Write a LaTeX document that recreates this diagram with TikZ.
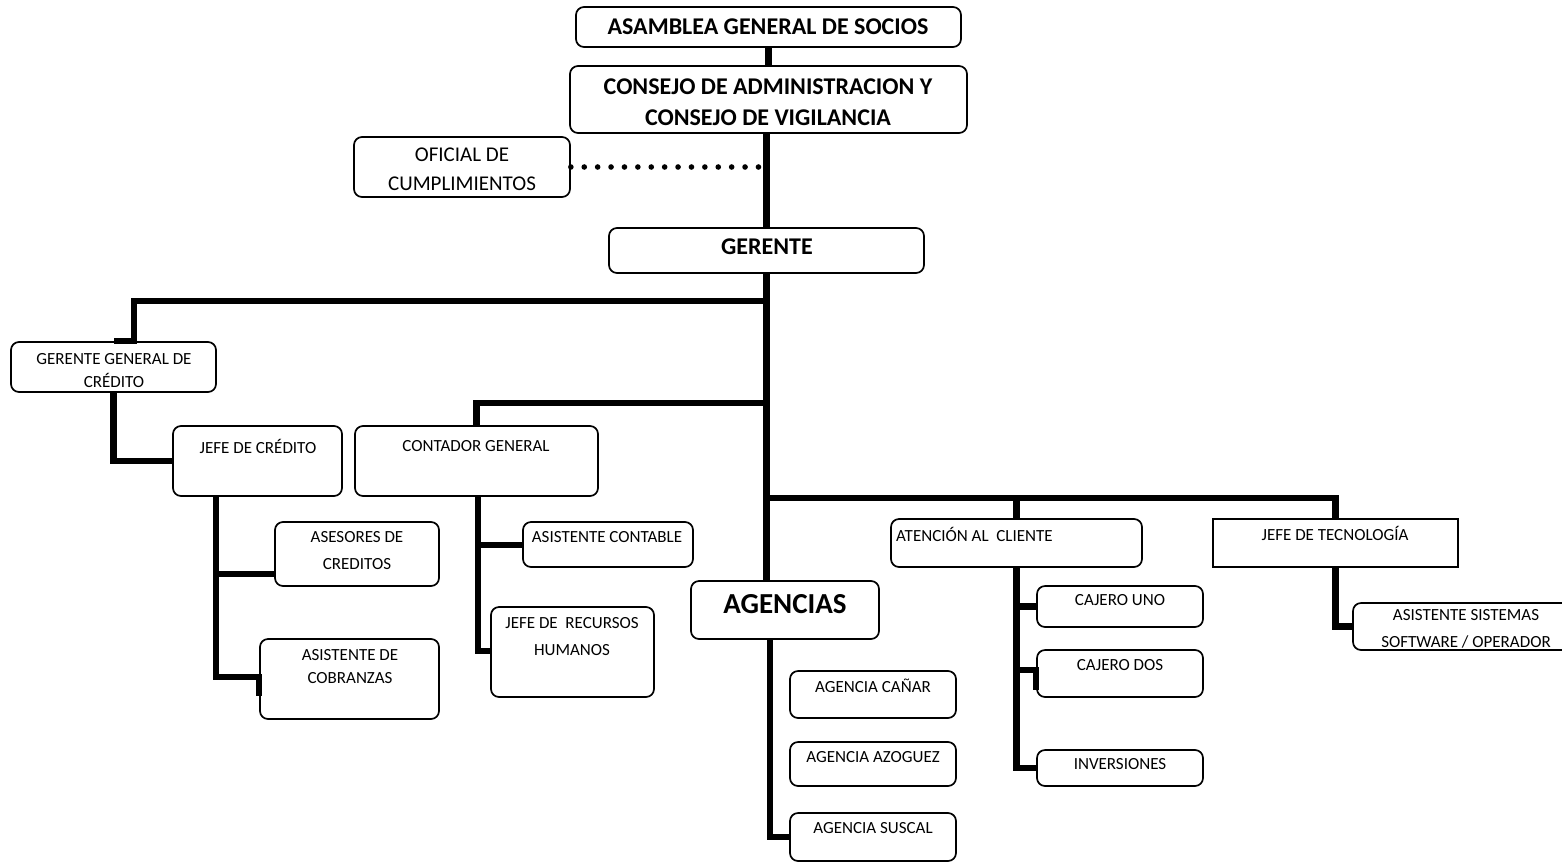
\documentclass[tikz,border=0pt]{standalone}
\usepackage{fontspec}
\setmainfont{Carlito}
\usetikzlibrary{fit}
\begin{document}
\begin{tikzpicture}[x=1pt,y=-1pt,
  box/.style={draw, line width=1.7pt, rounded corners=8pt, inner sep=0pt},
  sqbox/.style={draw, line width=1.7pt, inner sep=0pt},
  conn/.style={line width=6.2pt},
  dotline/.style={line width=5.6pt, line cap=round, dash pattern=on 0pt off 13.4pt},
  hb/.style={inner sep=0pt, align=center, font=\fontsize{24}{31}\selectfont\bfseries},
  hm/.style={inner sep=0pt, align=center, font=\fontsize{21}{29}\selectfont},
  sm/.style={inner sep=0pt, align=center, font=\fontsize{17}{23}\selectfont},
  smw/.style={inner sep=0pt, align=center, font=\fontsize{17}{27}\selectfont},
  big/.style={inner sep=0pt, align=center, font=\fontsize{29}{35}\selectfont\bfseries}]
\useasboundingbox (0,0) rectangle (1562,863);

% boxes
\node[box, fit={(576,7) (961,47)}] (asamblea) {};
\node[box, fit={(570,66) (967,133)}] (consejo) {};
\node[box, fit={(354,137) (570,197)}] (oficial) {};
\node[box, fit={(609,228) (924,273)}] (gerente) {};
\node[box, fit={(11,342) (216,392)}] (ggc) {};
\node[box, fit={(173,426) (342,496)}] (jefecred) {};
\node[box, fit={(355,426) (598,496)}] (contador) {};
\node[box, fit={(275,522) (439,586)}] (asesores) {};
\node[box, fit={(260,639) (439,719)}] (cobranzas) {};
\node[box, fit={(523,522) (693,567)}] (asistcont) {};
\node[box, fit={(491,607) (654,697)}] (rrhh) {};
\node[box, fit={(691,581) (879,639)}] (agencias) {};
\node[box, fit={(790,671) (956,718)}] (canar) {};
\node[box, fit={(790,742) (956,786)}] (azoguez) {};
\node[box, fit={(790,813) (956,861)}] (suscal) {};
\node[box, fit={(891,519) (1142,567)}] (atencion) {};
\node[sqbox, fit={(1213,519) (1458,567)}] (jefetec) {};
\node[box, fit={(1037,586) (1203,627)}] (cajero1) {};
\node[box, fit={(1037,650) (1203,697)}] (cajero2) {};
\node[box, fit={(1037,750) (1203,786)}] (inversiones) {};
\node[box, fit={(1353,603) (1579,650)}] (asistsis) {};

% texts
\node[hb] (asamblea-t) at (768,27) {ASAMBLEA GENERAL DE SOCIOS};
\node[hb] (consejo-t) at (768,102) {CONSEJO DE ADMINISTRACION Y\\CONSEJO DE VIGILANCIA};
\node[hm] (oficial-t) at (462,169) {OFICIAL DE\\CUMPLIMIENTOS};
\node[hb] (gerente-t) at (767,247) {GERENTE};
\node[sm] (ggc-t) at (114,371) {GERENTE GENERAL DE\\CRÉDITO};
\node[sm] (jefecred-t) at (258,446) {JEFE DE CRÉDITO};
\node[sm] (contador-t) at (476,446) {CONTADOR GENERAL};
\node[smw] (asesores-t) at (357,551) {ASESORES DE\\CREDITOS};
\node[sm] (cobranzas-t) at (350,667) {ASISTENTE DE\\COBRANZAS};
\node[sm] (asistcont-t) at (607,537) {ASISTENTE CONTABLE};
\node[smw] (rrhh-t) at (572,637) {JEFE DE\ \ RECURSOS\\HUMANOS};
\node[big] (agencias-t) at (785,604) {AGENCIAS};
\node[sm] (canar-t) at (873,686) {AGENCIA CAÑAR};
\node[sm] (azoguez-t) at (873,757) {AGENCIA AZOGUEZ};
\node[sm] (suscal-t) at (873,828) {AGENCIA SUSCAL};
\node[sm, anchor=west] (atencion-t) at (896,534) {ATENCIÓN AL\ \ CLIENTE};
\node[sm] (jefetec-t) at (1335,533) {JEFE DE TECNOLOGÍA};
\node[sm] (cajero1-t) at (1120,600) {CAJERO UNO};
\node[sm] (cajero2-t) at (1120,665) {CAJERO DOS};
\node[sm] (inversiones-t) at (1120,764) {INVERSIONES};
\node[smw] (asistsis-t) at (1466,629) {ASISTENTE SISTEMAS\\SOFTWARE / OPERADOR};

% junctions
\coordinate (j1) at (767,301);
\coordinate (j2) at (767,403);
\coordinate (j3) at (767,498);
\coordinate (jc) at (216,574);
\coordinate (jk) at (478,545);
\coordinate (dotend) at (760,167);

% trunk
\draw[conn] (asamblea.south) -- (consejo.north);
\draw[conn] (consejo.south -| gerente.north) -- (gerente.north);
\draw[conn] (gerente.south) -- (gerente.south |- agencias.north);
\draw[dotline] (oficial.east) -- (dotend);

% left branches
\draw[conn] (j1) -| (ggc.north -| 134,0) -- (ggc.north -| 114,0);
\draw[conn] (ggc.south) |- (jefecred.west);
\draw[conn] (j2) -| (contador.north);
\draw[conn] (jefecred.south -| jc) |- (cobranzas.west |- 0,677) -- (cobranzas.west |- 0,696);
\draw[conn] (jc) -- (asesores.west |- jc);
\draw[conn] (contador.south -| jk) |- (rrhh.west |- 0,651);
\draw[conn] (jk) -- (asistcont.west |- jk);

% right branches
\draw[conn] (j3) -| (jefetec.north);
\draw[conn] (j3 -| atencion.north) -- (atencion.north);
\draw[conn] (atencion.south) |- (inversiones.west);
\draw[conn] (atencion.south |- cajero1.west) -- (cajero1.west);
\draw[conn] (atencion.south |- 0,670) -- (cajero2.west |- 0,670) -- (cajero2.west |- 0,690);
\draw[conn] (jefetec.south) |- (asistsis.west);

% agencias
\draw[conn] (agencias.south -| 770,0) |- (suscal.west);
\end{tikzpicture}
\end{document}
